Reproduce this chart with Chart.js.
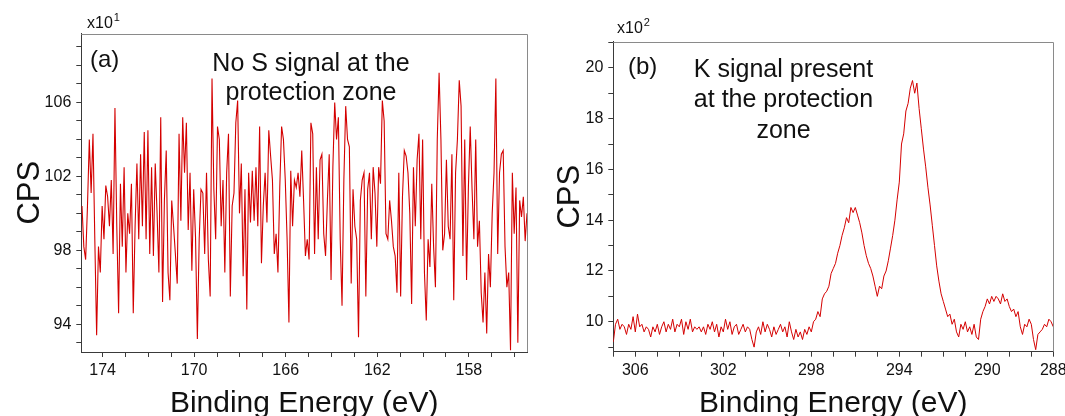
<!DOCTYPE html>
<html>
<head>
<meta charset="utf-8">
<script src="https://cdn.jsdelivr.net/npm/chart.js@4"></script>
<style>
html,body{margin:0;padding:0;background:#fff;}
#wrap{position:relative;width:1065px;height:416px;overflow:hidden;background:#fff;}
#pa{position:absolute;left:0;top:0;width:540px;height:416px;}
#pb{position:absolute;left:540px;top:0;width:525px;height:416px;}
canvas{display:block;}
</style>
</head>
<body>
<div id="wrap">
  <div id="pa"><canvas id="chartA" width="540" height="416" style="width:540px;height:416px"></canvas></div>
  <div id="pb"><canvas id="chartB" width="525" height="416" style="width:525px;height:416px"></canvas></div>
</div>
<script>
// ---------------- DATA ----------------
// Panel (a): S region, CPS in units of x10^1, sampled every 0.08 eV starting at 174.9 eV (decreasing)
const energyStartA = 174.9;
const energyStepA = 0.08;
const cpsA = [
  100.4, 98.2, 97.5, 100.4, 104.0, 101.1, 104.3, 98.6, 93.4, 98.2,
  96.8, 100.4, 98.6, 101.5, 100.9, 99.3, 101.8, 97.8, 105.7, 99.3,
  94.6, 101.6, 98.2, 102.5, 96.8, 100.0, 98.9, 101.6, 94.6, 99.3,
  102.7, 98.6, 103.2, 99.3, 104.4, 98.6, 104.5, 97.8, 102.5, 97.7,
  102.7, 100.0, 96.8, 105.2, 95.2, 100.7, 103.4, 96.8, 95.3, 100.7,
  99.3, 97.8, 96.2, 104.3, 99.6, 105.2, 102.2, 104.9,
  99.1, 102.2, 96.9, 101.3, 98.7, 93.2, 98.6, 101.3, 101.1, 97.8,
  102.2, 97.5, 95.5, 107.3, 101.3, 98.6, 104.7, 104.0, 99.3, 101.8,
  96.8, 102.2, 104.3, 95.5, 100.4, 101.1, 104.9, 106.1, 100.0, 102.7,
  96.6, 101.3, 94.8, 102.2, 99.5, 102.3, 99.6, 102.5, 99.3, 104.7,
  97.3, 100.4, 102.2, 99.5, 104.5, 103.1, 101.8, 97.8, 98.9, 96.8,
  101.4, 104.7, 104.0, 101.8, 98.6, 94.1, 102.3, 99.3, 101.8, 101.4,
  102.2, 100.9, 103.4, 100.7, 97.7, 98.6, 97.5, 104.9, 104.3, 97.8,
  102.5, 98.6, 102.9, 103.2, 98.9, 97.7, 100.7, 103.2, 96.4, 102.5,
  106.0, 104.0, 105.2, 98.6, 95.0, 101.8, 105.8, 104.0, 103.6, 96.2,
  101.3, 99.3, 98.6, 93.3, 100.7, 101.8, 102.2, 95.5, 101.3, 102.2,
  98.6, 102.5, 101.1, 98.2, 102.5, 101.6, 106.1, 105.0, 98.9, 98.6,
  100.7, 99.6, 98.2, 97.7, 95.7, 102.2, 95.5, 100.9, 103.4, 103.1,
  102.2, 100.0, 95.1, 102.5, 99.3, 102.9, 104.3, 98.6, 104.0, 96.8,
  94.2, 98.6, 97.1, 101.6, 98.2, 96.0, 104.0, 107.6, 104.0, 98.0,
  98.9, 102.9, 99.3, 98.6, 103.2, 95.3, 102.2, 104.0, 107.2, 105.8,
  97.7, 104.0, 96.4, 101.4, 104.7, 101.3, 98.6, 104.0, 98.2, 99.6,
  95.7, 94.1, 96.8, 93.5, 97.8, 96.0, 100.0, 102.2, 107.3, 97.8,
  102.2, 103.2, 103.4, 98.2, 96.0, 96.8,
  92.6, 102.2, 98.9, 101.4, 93.0, 100.7, 99.8, 100.9, 98.5, 100.0
];

// Panel (b): K 2p region, CPS in units of x10^2, sampled every 0.1 eV starting at 307.0 eV (decreasing)
const energyStartB = 307.0;
const energyStepB = 0.1;
const cpsB = [
  9.2, 9.9, 10.1, 9.7, 9.9, 9.8, 9.5, 9.9, 9.7, 10.2,
  9.6, 10.3, 9.8, 9.9, 9.6, 9.8, 9.7, 9.4, 9.8, 9.6,
  9.9, 9.5, 9.8, 10.0, 9.6, 9.9, 9.7, 10.1, 9.6, 9.9,
  9.8, 10.1, 9.5, 10.0, 9.7, 10.1, 9.6, 9.8, 9.7, 9.8,
  9.6, 9.8, 9.5, 9.9, 9.7, 10.0, 9.6, 9.9, 9.4, 9.8,
  9.6, 10.1, 9.7, 10.0, 9.5, 9.8, 9.9, 9.5, 9.7, 9.9,
  9.6, 9.8, 9.7, 9.3, 9.0, 9.6, 9.8, 9.5, 10.0, 9.6,
  9.9, 9.7, 9.4, 9.8, 9.5, 9.7, 9.9, 9.6, 9.8, 9.4,
  10.0, 9.6, 9.3, 9.7, 9.4, 9.6, 9.3, 9.7, 9.5, 9.8,
  9.6, 10.0, 10.1, 10.4, 10.2, 10.9, 11.1, 11.2, 11.4, 11.9,
  12.1, 12.3, 12.7, 13.0, 13.4, 13.7, 14.1, 13.9, 14.5, 14.3,
  14.5, 14.2, 13.9, 13.5, 13.0, 12.6, 12.3, 12.1, 11.8, 11.4,
  11.0, 11.4, 11.3, 11.8, 12.0, 12.4, 12.9, 13.4, 14.0, 14.8,
  15.5, 17.0, 17.4, 18.3, 18.6, 19.2, 19.5, 19.0, 19.4, 18.4,
  17.6, 16.8, 16.1, 15.3, 14.6, 13.8, 13.0, 12.2, 11.6, 11.1,
  10.8, 10.5, 10.2, 10.3, 9.9, 10.1, 9.6, 9.4, 9.9, 9.7,
  10.0, 9.6, 9.8, 9.5, 9.9, 9.4, 9.3, 10.1, 10.4, 10.6,
  10.9, 10.7, 11.0, 10.8, 11.0, 10.9, 10.7, 11.1, 10.8, 10.9,
  10.6, 10.4, 10.5, 10.2, 10.4, 9.8, 9.5, 9.9, 9.8, 10.1,
  9.9, 9.3, 8.9, 9.5, 9.6, 9.7, 9.9, 9.8, 10.1, 10.0,
  9.8
];

// Tick labels
const xLabelsA = [174, 170, 166, 162, 158];
const yLabelsA = [94, 98, 102, 106];
const xLabelValuesB = [306, 302, 298, 294, 290, 287];
const xLabelTextB = ['306', '302', '298', '294', '290', '288'];
const yLabelsB = [10, 12, 14, 16, 18, 20];

// Texts
const axisTitleX = 'Binding Energy (eV)';
const axisTitleY = 'CPS';
const panelTags = ['(a)', '(b)'];
const notesA = ['No S signal at the', 'protection zone'];
const notesB = ['K signal present', 'at the protection', 'zone'];
const multiplierA = ['x10', '1'];
const multiplierB = ['x10', '2'];

// ---------------- RENDERING ----------------
const FONT = '"Liberation Sans", Arial, Helvetica, sans-serif';
const TXT = '#111111';
const AXIS = '#3a3a3a';
const FRAME = '#8a8a8a';
const LINE = '#d40000';

Chart.defaults.font.family = FONT;
Chart.defaults.color = TXT;

function toPoints(start, step, vals) {
  return vals.map((v, i) => ({ x: Math.round((start - i * step) * 1000) / 1000, y: v }));
}
function intTicks(min, max) {
  const t = [];
  for (let v = Math.ceil(min); v <= Math.floor(max); v++) t.push({ value: v });
  return t;
}

const framePlugin = {
  id: 'frame',
  afterDatasetsDraw(chart) {
    const { ctx, chartArea: a } = chart;
    ctx.save();
    ctx.strokeStyle = FRAME;
    ctx.lineWidth = 1;
    ctx.beginPath();
    ctx.moveTo(a.left, Math.round(a.top) + 0.5);
    ctx.lineTo(Math.round(a.right) + 0.5, Math.round(a.top) + 0.5);
    ctx.lineTo(Math.round(a.right) + 0.5, a.bottom);
    ctx.stroke();
    ctx.restore();
  }
};

const notesPlugin = {
  id: 'notes',
  afterDraw(chart, args, opts) {
    const ctx = chart.ctx;
    ctx.save();
    ctx.fillStyle = TXT;
    ctx.textBaseline = 'alphabetic';
    (opts.items || []).forEach(it => {
      ctx.font = it.size + 'px ' + FONT;
      ctx.textAlign = it.align || 'left';
      ctx.fillText(it.text, it.x, it.y);
      if (it.sup) {
        const w = ctx.measureText(it.text).width;
        ctx.font = it.supSize + 'px ' + FONT;
        ctx.textAlign = 'left';
        ctx.fillText(it.sup, it.x + w + 1, it.y - it.supRise);
      }
    });
    ctx.restore();
  }
};

function makeChart(id, c) {
  const gridCfg = { drawOnChartArea: false, drawTicks: true, tickLength: 5, color: AXIS, lineWidth: 1 };
  const borderCfg = { display: true, color: AXIS, width: 1 };
  return new Chart(document.getElementById(id), {
    type: 'line',
    data: {
      datasets: [{
        data: c.points,
        borderColor: LINE,
        borderWidth: c.lineW,
        pointRadius: 0,
        tension: 0,
        fill: false
      }]
    },
    options: {
      responsive: false,
      animation: false,
      devicePixelRatio: 1,
      events: [],
      layout: { padding: c.padding },
      plugins: {
        legend: { display: false },
        tooltip: { enabled: false },
        notes: { items: c.notes }
      },
      scales: {
        x: {
          type: 'linear',
          position: 'bottom',
          reverse: true,
          min: c.xMin,
          max: c.xMax,
          afterBuildTicks: s => { s.ticks = intTicks(c.xMin, c.xMax); },
          afterFit: s => { s.height = c.xAxisH; s.paddingLeft = 0; s.paddingRight = 0; },
          ticks: {
            autoSkip: false, maxRotation: 0, minRotation: 0, padding: 4,
            color: TXT, font: { size: 16 },
            callback: c.xLabel
          },
          grid: gridCfg,
          border: borderCfg,
          title: {
            display: true, text: axisTitleX, color: TXT,
            font: { size: 30, lineHeight: 1 }, padding: { top: 0, bottom: -3 }
          }
        },
        y: {
          type: 'linear',
          position: 'left',
          min: c.yMin,
          max: c.yMax,
          afterBuildTicks: s => { s.ticks = intTicks(c.yMin, c.yMax); },
          afterFit: s => { s.width = c.yAxisW; s.paddingTop = 0; s.paddingBottom = 0; },
          ticks: {
            autoSkip: false, padding: 5,
            color: TXT, font: { size: 16 },
            callback: c.yLabel
          },
          grid: gridCfg,
          border: borderCfg,
          title: {
            display: true, text: axisTitleY, color: TXT,
            font: { size: 31, lineHeight: 1 }, padding: { top: c.yTitlePad, bottom: 0 }
          }
        }
      }
    },
    plugins: [framePlugin, notesPlugin]
  });
}

makeChart('chartA', {
  points: toPoints(energyStartA, energyStepA, cpsA),
  lineW: 1.1,
  xMin: 155.46, xMax: 174.93,
  yMin: 92.5, yMax: 109.73,
  padding: { left: 0, top: 33.5, right: 13, bottom: 0 },
  xAxisH: 64, yAxisW: 81.3, yTitlePad: 15,
  xLabel: v => (xLabelsA.includes(v) ? String(v) : ''),
  yLabel: v => (yLabelsA.includes(v) ? String(v) : ''),
  notes: [
    { text: multiplierA[0], sup: multiplierA[1], x: 87, y: 28, size: 16, supSize: 11, supRise: 7 },
    { text: panelTags[0], x: 90, y: 67, size: 24 },
    { text: notesA[0], x: 311, y: 71, size: 25, align: 'center' },
    { text: notesA[1], x: 311, y: 100, size: 25, align: 'center' }
  ]
});

makeChart('chartB', {
  points: toPoints(energyStartB, energyStepB, cpsB),
  lineW: 1,
  xMin: 287, xMax: 307,
  yMin: 8.82, yMax: 21.03,
  padding: { left: 0, top: 41.7, right: 11.7, bottom: 0 },
  xAxisH: 64.3, yAxisW: 73.3, yTitlePad: 15,
  xLabel: v => { const k = xLabelValuesB.indexOf(v); return k >= 0 ? xLabelTextB[k] : ''; },
  yLabel: v => (yLabelsB.includes(v) ? String(v) : ''),
  notes: [
    { text: multiplierB[0], sup: multiplierB[1], x: 77, y: 33, size: 16, supSize: 11, supRise: 7 },
    { text: panelTags[1], x: 88, y: 73.5, size: 24 },
    { text: notesB[0], x: 243.5, y: 76.5, size: 25, align: 'center' },
    { text: notesB[1], x: 243.5, y: 107, size: 25, align: 'center' },
    { text: notesB[2], x: 243.5, y: 137.5, size: 25, align: 'center' }
  ]
});
</script>
</body>
</html>
